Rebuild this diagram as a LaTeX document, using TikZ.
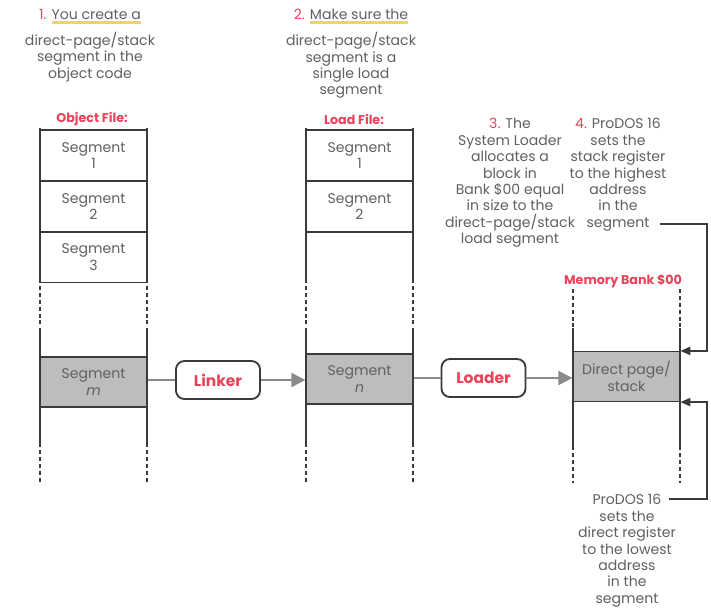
\documentclass[tikz,border=0pt]{standalone}
\usepackage{fontspec}
\setmainfont{Poppins}
\usepackage{xcolor}
\usetikzlibrary{arrows.meta}

\definecolor{ink}{HTML}{606060}
\definecolor{linecol}{HTML}{3A3A3A}
\definecolor{redlbl}{HTML}{E8435A}
\definecolor{segfill}{HTML}{BDBDBD}
\definecolor{arrowgray}{HTML}{8A8A8A}
\definecolor{hlyellow}{HTML}{F0D070}

\newcommand{\notefont}{\fontsize{10}{11.7}\selectfont}
\newcommand{\stepnum}[1]{{\color{redlbl}#1}}
\newcommand{\yul}[1]{\setbox0\hbox{#1}\rlap{\color{hlyellow}\rule[-3pt]{\wd0}{2pt}}\box0}

\begin{document}
\begin{tikzpicture}[x=0.025cm,y=-0.025cm,
  note/.style={text=ink,font=\notefont,align=center,inner sep=0pt},
  title/.style={text=redlbl,font=\fontsize{9}{10}\selectfont\bfseries,inner sep=0pt},
  seg/.style={draw=linecol,line width=0.8pt,minimum width=2.675cm,minimum height=1.275cm,
    inner sep=0pt,align=center,text=ink,font=\notefont},
  segdark/.style={seg,fill=segfill,minimum height=1.25cm},
  tool/.style={draw=linecol,line width=1.3pt,rounded corners=6pt,minimum width=2.1cm,
    minimum height=0.95cm,text=redlbl,font=\fontsize{11}{12}\selectfont\bfseries},
  rail/.style={draw=linecol,line width=1.2pt},
  railcut/.style={rail,dash pattern=on 2.8pt off 2.1pt},
  feed/.style={draw=arrowgray,line width=1.3pt},
  ptr/.style={draw=linecol,line width=0.9pt,-{Triangle[length=7pt,width=6pt]}}]

\useasboundingbox (0,0) rectangle (711,611);

% STEP NOTES

% Step 1.
\node[note,anchor=north] (step1) at (90,9)
  {\stepnum{1.} \yul{You create a}\\[5pt] direct-page/stack\\ segment in the\\ object code};

% Step 2.
\node[note,anchor=north] (step2) at (351,9)
  {\stepnum{2.} \yul{Make sure the}\\[5pt] direct-page/stack\\ segment is a\\ single load\\ segment};

% Step 3.
\node[note,anchor=north] (step3) at (510,118)
  {\stepnum{3.} The\\ System Loader\\ allocates a\\ block in\\ Bank \$00 equal\\ in size to the\\ direct-page/stack\\ load segment};

% Step 4.
\node[note,anchor=north] (step4) at (618,118)
  {\stepnum{4.} ProDOS 16\\ sets the\\ stack register\\ to the highest\\ address\\ in the\\ segment};

% Direct register note.
\node[note,anchor=north] (dirnote) at (627,494)
  {ProDOS 16\\ sets the\\ direct register\\ to the lowest\\ address\\ in the\\ segment};

% COLUMNS

% Object file.
\node[title] (objtitle) at (92,119) {Object File:};
\node[seg] (obj1) at (93.5,155.5) {Segment\\ 1};
\node[seg] (obj2) at (93.5,206.5) {Segment\\ 2};
\node[seg] (obj3) at (93.5,257) {Segment\\ 3};
\node[segdark] (objm) at (93.5,382) {Segment\\ \textit{m}};
\draw[rail] (40,128) -- (40,283) (147,128) -- (147,283);
\draw[railcut] (40,286) -- (40,327) (147,286) -- (147,327);
\draw[rail] (40,328) -- (40,447) (147,328) -- (147,447);
\draw[railcut] (40,450) -- (40,483) (147,450) -- (147,483);

% Load file.
\node[title] (ldtitle) at (354,119) {Load File:};
\node[seg] (ld1) at (359.5,155.5) {Segment\\ 1};
\node[seg] (ld2) at (359.5,206.5) {Segment\\ 2};
\node[segdark] (ldn) at (359.5,379) {Segment\\ \textit{n}};
\draw[rail] (306,128) -- (306,283) (413,128) -- (413,283);
\draw[railcut] (306,286) -- (306,327) (413,286) -- (413,327);
\draw[rail] (306,328) -- (306,447) (413,328) -- (413,447);
\draw[railcut] (306,450) -- (306,483) (413,450) -- (413,483);

% Memory bank.
\node[title] (memtitle) at (623,281) {Memory Bank \$00};
\node[segdark] (mem) at (626.5,376.5) {Direct page/\\ stack};
\draw[railcut] (573,289) -- (573,327) (680,289) -- (680,327);
\draw[rail] (573,328) -- (573,450) (680,328) -- (680,450);
\draw[railcut] (573,453) -- (573,483) (680,453) -- (680,483);

% TOOLS

\node[tool] (linker) at (218,380) {Linker};
\node[tool] (loader) at (483.5,378) {Loader};

% CONNECTIONS

% Object file -> linker -> load file.
\draw[feed] (objm.east |- linker.west) -- (linker.west);
\draw[feed,-{Triangle[length=10pt,width=10pt]},arrowgray] (linker.east) -- (ldn.west |- linker.east);

% Load file -> loader -> memory bank.
\draw[feed] (ldn.east |- loader.west) -- (loader.west);
\draw[feed,-{Triangle[length=10pt,width=10pt]},arrowgray] (loader.east) -- (mem.west |- loader.east);

% Register pointers.
\coordinate (stkin) at (660,224);
\coordinate (dirin) at (669,499);
\draw[ptr] (stkin) -- (707,224) |- (mem.north east);
\draw[ptr] (dirin) -- (707,499) |- (mem.south east);

\end{tikzpicture}
\end{document}
